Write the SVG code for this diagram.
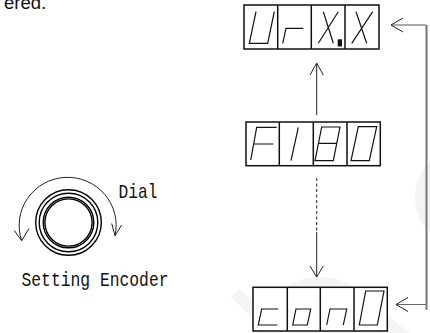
<svg xmlns="http://www.w3.org/2000/svg" width="430" height="333" viewBox="0 0 430 333">
<style>
.b{fill:#fff;stroke:#111;stroke-width:1.5}
.d{fill:none;stroke:#111;stroke-width:1.5}
.g{fill:none;stroke:#111;stroke-width:1.2}
.c{fill:none;stroke:#222;stroke-width:1}
.r{fill:none;stroke:#000;stroke-width:1.4}
.t{font-family:"Liberation Mono",monospace;font-size:21px;fill:#111}
</style>
<rect width="430" height="333" fill="#fff"/>
<g id="watermark" fill="#f4f4f4">
<circle cx="465" cy="197" r="50"/>
<circle cx="320" cy="340" r="63"/>
<path d="M240 289L285 333H267L231 297Z"/>
<path d="M387 315L410 333H387Z"/>
</g>
<text x="4" y="8.7" font-family="Liberation Sans,sans-serif" font-size="18.5px" fill="#111">ered.</text>
<g id="display-top">
<rect class="b" x="244" y="5" width="135" height="44"/>
<path class="d" d="M277.7 5V49M311.3 5V49M345 5V49"/>
<path class="g" d="M256 11.7L249.3 43.3H267.7L274.3 11.7M282.7 43.3L286 28.3H303.3M323.3 11.7L333.3 43.3M318.3 43.3L338.3 11.7M356 11.7L366.7 43.3M351.7 43.3L372.7 11.7"/>
<rect x="337.7" y="39.3" width="4.3" height="7.2" fill="#111"/>
</g>
<g id="display-middle">
<rect class="b" x="246" y="122" width="134.3" height="43.7"/>
<path class="d" d="M279.3 122V165.7M313.3 122V165.7M347 122V165.7"/>
<path class="g" d="M250.7 160L256.7 127.3H276.7M253.3 144H273.3M291 160.7L298.3 127.3"/>
<path class="g" d="M315 160.7L321.7 127H340L333.3 160.7ZM318.3 143.3H336.7"/>
<path class="g" d="M351 160.7L358.3 126.7H376.7L369.3 160.7Z"/>
</g>
<g id="display-bottom">
<rect class="b" x="253" y="287.3" width="134.3" height="43.7"/>
<path class="d" d="M287.3 287.3V331M320.3 287.3V331M354 287.3V331"/>
<path class="g" d="M278.3 309H261.7L258.3 325H277.3"/>
<path class="g" d="M292.7 325L296 309H310.7L307.3 325Z"/>
<path class="g" d="M326.7 325L330 309H346.7L343.3 325"/>
<path class="g" d="M359.3 325L365.7 291H384L377.3 325Z"/>
</g>
<g id="dial">
<circle class="r" cx="68.5" cy="222.5" r="32.8"/>
<circle class="r" cx="68.5" cy="222.5" r="29.3"/>
<circle class="r" cx="68.5" cy="222.5" r="25.3"/>
<circle class="r" cx="68.5" cy="222.5" r="23.6"/>
<path class="c" d="M21.7 240.7A48.5 48 0 1 1 115 235.7"/>
<path class="c" d="M14.3 230.5L21.7 240.7L29 228.5M111.7 223.5L115 235.7L121.7 225"/>
<text class="t" x="118.5" y="198" textLength="39" lengthAdjust="spacingAndGlyphs">Dial</text>
<text class="t" x="21.5" y="285.7" textLength="147" lengthAdjust="spacingAndGlyphs">Setting Encoder</text>
</g>
<g id="connectors">
<path class="c" d="M316.7 63V115M310 75L316.7 63L323.3 75"/>
<path class="c" d="M316.7 178V232" stroke-dasharray="3 2.5"/>
<path class="c" d="M316.7 232V277M310 266L316.7 277L323.3 266"/>
<path d="M391 25H426" fill="none" stroke="#555" stroke-width="1"/>
<path d="M396 304.5H426" fill="none" stroke="#666" stroke-width="1"/>
<path d="M426.5 25V310" fill="none" stroke="#777" stroke-width="2"/>
<path class="c" d="M403 18L391 25L403 32M408 297.5L396 304.5L408 311.5"/>
</g>
</svg>
